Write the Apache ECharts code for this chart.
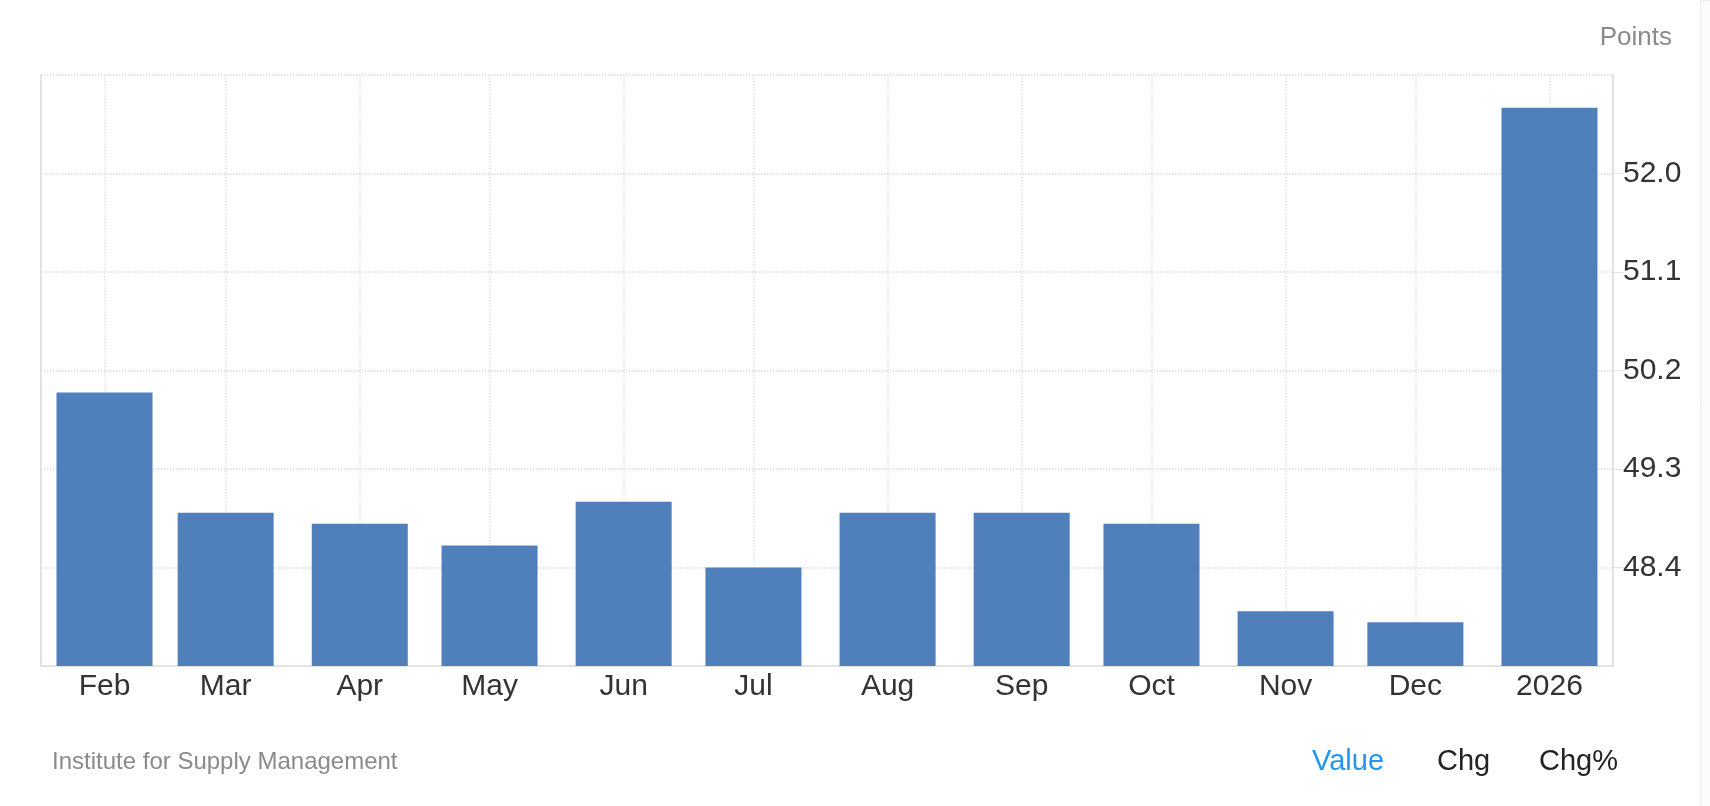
<!DOCTYPE html>
<html>
<head>
<meta charset="utf-8">
<script src="https://cdn.jsdelivr.net/npm/echarts@6/dist/echarts.min.js"></script>
<style>
  html, body { margin: 0; padding: 0; background: #ffffff; }
  #chart { width: 1710px; height: 806px; }
</style>
</head>
<body>
<div id="chart"></div>
<script>
// ---- data ----
const dates = ['2025-02-01', '2025-03-01', '2025-04-01', '2025-05-01', '2025-06-01', '2025-07-01',
               '2025-08-01', '2025-09-01', '2025-10-01', '2025-11-01', '2025-12-01', '2026-01-01'];
const labels = ['Feb', 'Mar', 'Apr', 'May', 'Jun', 'Jul', 'Aug', 'Sep', 'Oct', 'Nov', 'Dec', '2026'];
const values = [50.0, 48.9, 48.8, 48.6, 49.0, 48.4, 48.9, 48.9, 48.8, 48.0, 47.9, 52.6];
const yMin = 47.5;
const yMax = 52.9;
const yInterval = 0.9;
const unitLabel = 'Points';
const sourceLabel = 'Institute for Supply Management';
const tabLabels = ['Value', 'Chg', 'Chg%'];

// ---- chart ----
const DAY = 86400000;
const FONT = "'Liberation Sans', Arial, Helvetica, sans-serif";
const stamps = dates.map(d => { const p = d.split('-').map(Number); return Date.UTC(p[0], p[1] - 1, p[2]); });
const seriesData = stamps.map((t, i) => [t, values[i]]);

// ECharts widens the time extent by half a bar on each side; pad so the final margin is ~14 days
const PAD = 3.585 * DAY;

function labelFor(v) {
  for (let i = 0; i < stamps.length; i++) {
    if (Math.abs(stamps[i] - v) < DAY / 2) return labels[i];
  }
  return '';
}

const chart = echarts.init(document.getElementById('chart'), null, { renderer: 'canvas' });
chart.setOption({
  useUTC: true,
  animation: false,
  backgroundColor: '#ffffff',
  textStyle: { fontFamily: FONT },
  grid: { left: 41, right: 97, top: 75, bottom: 140, containLabel: false },
  xAxis: {
    type: 'time',
    min: stamps[0] - PAD,
    max: stamps[stamps.length - 1] + PAD,
    splitNumber: 12,
    minInterval: 28 * DAY,
    maxInterval: 31 * DAY,
    axisLine: { show: true, lineStyle: { color: '#e2e2e2', width: 2 } },
    axisTick: { show: false },
    axisLabel: {
      formatter: labelFor,
      color: '#333333',
      fontSize: 30,
      fontFamily: FONT,
      margin: 6,
      hideOverlap: false,
      showMinLabel: false,
      showMaxLabel: false
    },
    splitLine: { show: true, lineStyle: { color: '#e4e4e4', type: 'dotted', width: 1.5 } }
  },
  yAxis: [
    {
      type: 'value',
      position: 'right',
      min: yMin,
      max: yMax,
      interval: yInterval,
      axisLine: { show: true, lineStyle: { color: '#e2e2e2', width: 2 } },
      axisTick: { show: true, length: 10, lineStyle: { color: '#e2e2e2', width: 1 } },
      axisLabel: {
        formatter: v => v.toFixed(1),
        color: '#333333',
        fontSize: 30,
        fontFamily: FONT,
        margin: 10,
        padding: [0, 0, 10, 0],
        showMinLabel: false,
        showMaxLabel: false
      },
      splitLine: { show: true, lineStyle: { color: '#dcdcdc', type: 'dotted', width: 1.5 } }
    },
    {
      type: 'value',
      position: 'left',
      min: yMin,
      max: yMax,
      interval: yInterval,
      axisLine: { show: true, lineStyle: { color: '#e2e2e2', width: 2 } },
      axisTick: { show: false },
      axisLabel: { show: false },
      splitLine: { show: false }
    }
  ],
  series: [{
    type: 'bar',
    yAxisIndex: 0,
    data: seriesData,
    barWidth: 96,
    itemStyle: { color: '#4f80bc' },
    emphasis: { disabled: true }
  }],
  graphic: [
    { type: 'text', right: 38, top: 25, style: { text: unitLabel, fill: '#8a8a8a', font: '26px ' + FONT } },
    { type: 'text', left: 52, top: 750, style: { text: sourceLabel, fill: '#8a8a8a', font: '24px ' + FONT } },
    { type: 'text', left: 1312, top: 747, style: { text: tabLabels[0], fill: '#2196f3', font: '29px ' + FONT } },
    { type: 'text', left: 1437, top: 747, style: { text: tabLabels[1], fill: '#222222', font: '29px ' + FONT } },
    { type: 'text', left: 1539, top: 747, style: { text: tabLabels[2], fill: '#222222', font: '29px ' + FONT } },
    { type: 'rect', left: 1700, top: 0, shape: { width: 10, height: 806 }, style: { fill: '#fbfbfb', stroke: '#ececec', lineWidth: 1 } }
  ]
});
</script>
</body>
</html>
